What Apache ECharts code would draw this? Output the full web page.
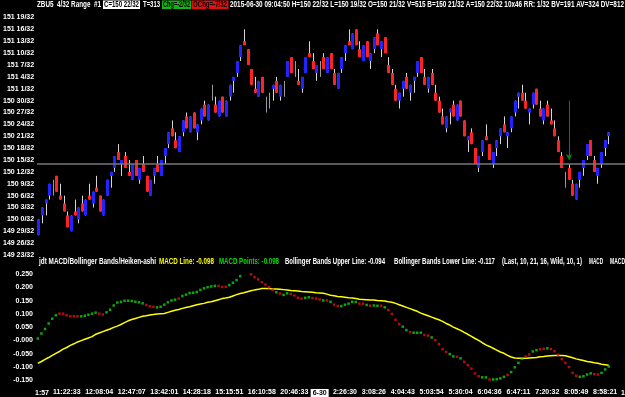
<!DOCTYPE html>
<html><head><meta charset="utf-8">
<script src="https://cdn.jsdelivr.net/npm/echarts/dist/echarts.min.js"></script>
<style>html,body{margin:0;padding:0;background:#000;}#c{width:625px;height:397px;}</style>
</head><body><div id="c"></div>
<script>
// ---- price bars (range bars, in 32nds above 150 0/32) ----
const opens = [-4,1,4,6,8,11,6,4,1,-3, 2,0,4,1,6,4,8,6,1,6, 11,13,17,14,16,12,10,15,10,14, 11,6,11,14,11,16,19,23,20,17,
 22,26,22,27,22,25,29,25,31,29, 26,31,26,31,35,37,41,45,43,38, 33,31,36,29,30,33,35,31,33,36, 41,38,35,33,37,42,40,37,38,41,
 37,42,37,33,38,42,45,43,48,43, 40,45,40,43,47,43,46,39,37,33, 30,33,36,32,35,37,41,36,33,37, 32,30,26,23,27,29,25,30,25,20,
 22,18,13,17,21,19,14,18,21,24, 21,23,27,31,32,30,27,29,33,28, 25,29,25,23,20,16,10,13,9,5, 10,13,16,20,15,11,14,18,21];
const highs = [0,3,5,9,10,11,9,6,2,1, 5,3,6,5,9,7,11,6,5,10, 12,16,19,15,17,15,14,15,13,16, 11,10,13,16,15,18,22,25,22,21,
 25,27,26,27,24,28,30,29,34,31, 30,31,30,34,36,40,44,48,43,38, 36,35,36,31,32,34,36,34,35,40, 41,40,38,36,41,45,42,39,40,42,
 41,42,38,37,41,44,48,47,48,45, 44,45,42,46,48,45,46,41,38,34, 32,35,37,34,36,40,41,38,36,38, 34,31,28,26,28,30,29,30,25,21,
 23,18,16,20,24,19,17,20,23,26, 22,26,30,32,34,32,28,32,33,30, 28,30,28,25,21,17,12,14,10,9, 12,15,19,20,16,13,17,20,22];
const lows = [-4,-1,1,5,6,7,5,2,-2,-3, 1,-1,2,1,5,3,7,2,1,6, 8,12,15,11,13,11,10,11,9,12, 7,6,9,12,11,14,18,21,18,17,
 21,23,22,23,20,24,26,25,30,27, 26,27,26,30,32,36,40,44,39,34, 32,31,32,27,28,30,32,30,31,36, 37,36,34,32,37,41,38,35,36,38,
 37,38,34,33,37,40,44,43,44,41, 40,41,38,42,44,41,42,37,34,30, 28,31,33,30,32,36,37,34,32,34, 30,27,24,22,24,26,25,26,21,17,
 19,14,12,16,20,15,13,16,19,22, 18,22,26,28,30,28,24,28,29,26, 24,26,24,21,17,13,8,10,6,5, 8,11,15,16,12,9,13,16,19];
const closes = [0,3,5,9,8,7,5,2,-2,1, 1,3,2,5,5,7,7,2,5,10, 12,16,15,15,13,11,14,11,13,12, 7,10,13,12,15,18,22,21,18,21,
 25,23,26,23,24,28,26,29,31,27, 30,27,30,34,36,40,44,44,39,34, 32,35,32,29,30,34,32,34,33,40, 37,38,34,36,41,41,38,39,38,38,
 41,38,34,37,41,44,44,47,44,41, 44,41,42,46,44,45,42,37,34,30, 32,35,33,34,36,40,37,34,36,34, 30,27,24,26,28,26,29,26,21,21,
 19,14,16,20,20,15,17,20,23,22, 22,26,30,32,30,28,28,32,29,26, 28,26,24,21,17,13,10,10,6,9, 12,15,19,16,12,13,17,20,22];
const refLevel = 14;            // 150 14/32 reference line
const arrowBar = 147, arrowTop = 30, arrowTip = 15;

// ---- indicator panel ----
const macdPoints = [0.007,0.026,0.043,0.064,0.082,0.095,0.101,0.101,0.095,0.091,
 0.091,0.091,0.091,0.093,0.097,0.101,0.105,0.101,0.098,0.106,
 0.116,0.132,0.143,0.146,0.150,0.150,0.149,0.146,0.144,0.140,
 0.134,0.129,0.127,0.125,0.127,0.135,0.144,0.151,0.154,0.158,
 0.168,0.173,0.179,0.180,0.183,0.191,0.197,0.201,0.204,0.206,
 0.206,0.202,0.203,0.209,0.218,0.228,0.243,0.256,0.259,0.250,
 0.239,0.231,0.220,0.211,0.201,0.191,0.182,0.177,0.172,0.178,
 0.175,0.170,0.161,0.158,0.161,0.163,0.160,0.158,0.155,0.151,
 0.151,0.146,0.135,0.130,0.130,0.135,0.139,0.146,0.145,0.139,
 0.139,0.134,0.131,0.132,0.131,0.131,0.125,0.115,0.100,0.078,
 0.062,0.052,0.039,0.031,0.029,0.029,0.029,0.020,0.018,0.011,
 0.001,-0.014,-0.033,-0.044,-0.052,-0.061,-0.062,-0.068,-0.081,-0.094,
 -0.107,-0.125,-0.136,-0.140,-0.140,-0.148,-0.148,-0.147,-0.144,-0.138,
 -0.131,-0.120,-0.102,-0.085,-0.070,-0.061,-0.053,-0.042,-0.037,-0.034,
 -0.032,-0.030,-0.033,-0.041,-0.054,-0.071,-0.085,-0.101,-0.123,-0.134,
 -0.138,-0.136,-0.129,-0.125,-0.128,-0.129,-0.123,-0.110,-0.099];
const macdColors = ('gggggg'+'rrrrrr'+'ggggg'+'rr'+'ggggggggggg'+'rrr'+'gggggg'+'r'+'gggggggggg'+'rrr'+'ggggg'+'rrrrrrrr'+'g'+'r'+'gg'+'rrrr'+'gg'+'rrr'+'g'+'r'
 +'g'+'rr'+'ggggg'+'rr'+'g'+'r'+'gg'+'r'+'g'+'rrrr'+'gg'+'r'+'ggg'+'rr'+'g'+'rrrr'+'gg'+'r'+'g'+'rrrrr'+'gg'+'r'+'gggg'+'r'+'gggg'+'rr'+'gg'+'rr'+'g'+'rrrrrrrr'+'gggg'+'rr'+'ggg');
const bandLine = [-0.087,-0.080,-0.072,-0.065,-0.057,-0.049,-0.042,-0.033,-0.027,-0.019,
 -0.013,-0.006,-0.001,0.004,0.009,0.014,0.023,0.028,0.033,0.038,
 0.043,0.049,0.054,0.060,0.067,0.074,0.079,0.083,0.087,0.091,
 0.093,0.096,0.098,0.100,0.101,0.102,0.106,0.110,0.114,0.117,
 0.121,0.124,0.127,0.131,0.135,0.138,0.140,0.144,0.146,0.150,
 0.154,0.158,0.160,0.163,0.168,0.173,0.177,0.180,0.184,0.188,
 0.191,0.193,0.196,0.196,0.196,0.194,0.194,0.193,0.192,0.191,
 0.189,0.188,0.187,0.185,0.184,0.183,0.182,0.180,0.179,0.178,
 0.175,0.171,0.169,0.166,0.165,0.163,0.161,0.160,0.158,0.156,
 0.155,0.154,0.153,0.153,0.151,0.150,0.149,0.146,0.144,0.140,
 0.135,0.130,0.125,0.120,0.115,0.110,0.103,0.098,0.093,0.088,
 0.083,0.078,0.072,0.064,0.058,0.050,0.044,0.038,0.030,0.023,
 0.015,0.007,0.000,-0.009,-0.017,-0.023,-0.030,-0.037,-0.044,-0.049,
 -0.057,-0.063,-0.067,-0.068,-0.068,-0.068,-0.067,-0.066,-0.065,-0.062,
 -0.061,-0.059,-0.058,-0.057,-0.057,-0.057,-0.058,-0.062,-0.066,-0.070,
 -0.073,-0.076,-0.080,-0.082,-0.085,-0.087,-0.090,-0.092,-0.094];

// ---- x axis ----
const slotCount = 163;
const categories = Array.from({length: slotCount}, (_, i) => String(i));
const xTickIdx = [8,17,26,35,44,53,62,71,78,85,93,101,109,117,125,133,141,149,157];
const xTickText = ['11:22:33','12:08:04','12:47:07','13:42:01','14:28:18','15:15:51','16:10:58','20:46:33','6-30',
 '2:26:30','3:08:26','4:04:43','5:03:54','5:30:04','6:04:36','6:47:11','7:20:32','8:05:49','8:58:21'];
const dateTick = '6-30';

// ---- helpers ----
const mctx = document.createElement('canvas').getContext('2d');
function fontAvail(f) {
  const s = 'abcdefghijklmnop0123456789';
  mctx.font = '16px monospace'; const a = mctx.measureText(s).width;
  mctx.font = '16px "' + f + '", monospace'; return Math.abs(mctx.measureText(s).width - a) > 0.5;
}
const narrow = fontAvail('Liberation Sans Narrow');
const AX_FAMILY = narrow ? 'Liberation Sans Narrow' : 'Liberation Sans';
const AX_SIZE = narrow ? 8 : 7;
const HDR_FONT = 'bold 9px "Liberation Sans"';
function fitText(x, y, w, text, fill) {
  mctx.font = HDR_FONT;
  const s = w / mctx.measureText(text).width;
  return {type: 'text', x: x, y: y, scaleX: s, z: 20, silent: true,
    style: {text: text, font: HDR_FONT, fill: fill, textAlign: 'left', textVerticalAlign: 'middle', align: 'left', verticalAlign: 'middle'}};
}
function box(x, y, w, h, fill) { return {type: 'rect', x: x, y: y, z: 15, silent: true, shape: {width: w, height: h}, style: {fill: fill}}; }
function priceLabel(u) {
  const whole = 150 + Math.floor(u / 32);
  const frac = u - Math.floor(u / 32) * 32;
  return whole + ' ' + frac + '/32';
}

const candleData = opens.map((o, i) => [i, o, highs[i], lows[i], closes[i]]);

const chart = echarts.init(document.getElementById('c'), null, {renderer: 'canvas'});
const axLabel = {color: '#ffffff', fontWeight: 'bold', fontFamily: AX_FAMILY, fontSize: AX_SIZE};

chart.setOption({
  backgroundColor: '#000000',
  animation: false,
  grid: [
    {left: 36, top: 17.5, width: 590, height: 237.5},
    {left: 36, top: 274.3, width: 590, height: 105.7}
  ],
  xAxis: [
    {type: 'category', gridIndex: 0, data: categories, boundaryGap: true,
     axisLine: {show: false}, axisTick: {show: false}, axisLabel: {show: false}, splitLine: {show: false}},
    {type: 'category', gridIndex: 1, data: categories, boundaryGap: true,
     axisLine: {show: false}, axisTick: {show: false}, splitLine: {show: false},
     axisLabel: Object.assign({}, axLabel, {
       margin: 9, hideOverlap: false,
       interval: (i) => xTickIdx.indexOf(i) >= 0,
       formatter: (v, i) => { const k = xTickIdx.indexOf(Number(v)); if (k < 0) return ''; const t = xTickText[k]; return t === dateTick ? '{d|' + t + '}' : t; },
       rich: {d: {backgroundColor: '#ffffff', color: '#000000', fontWeight: 'bold', fontFamily: AX_FAMILY, fontSize: AX_SIZE, padding: [1, 2, 0, 2]}}
     })}
  ],
  yAxis: [
    {type: 'value', gridIndex: 0, min: -9, max: 51, interval: 3,
     axisLine: {show: false}, axisTick: {show: false}, splitLine: {show: false},
     axisLabel: Object.assign({}, axLabel, {margin: 3, formatter: priceLabel})},
    {type: 'value', gridIndex: 1, min: -0.15, max: 0.25, interval: 0.05,
     axisLine: {show: false}, axisTick: {show: false}, splitLine: {show: false},
     axisLabel: Object.assign({}, axLabel, {margin: 3, formatter: (v) => Math.abs(v) < 1e-6 ? '-0.000' : v.toFixed(3)})}
  ],
  series: [
    {type: 'custom', xAxisIndex: 0, yAxisIndex: 0, data: candleData, encode: {x: 0, y: [1, 2, 3, 4]},
     renderItem: function (params, api) {
       const i = api.value(0), o = api.value(1), h = api.value(2), l = api.value(3), c = api.value(4);
       const pH = api.coord([i, h]), pL = api.coord([i, l]), pO = api.coord([i, o]), pC = api.coord([i, c]);
       const x = Math.floor(pH[0]);
       const kids = [];
       if (o === c) {
         kids.push({type: 'line', shape: {x1: x + 0.5, y1: pH[1], x2: x + 0.5, y2: pL[1]}, style: {stroke: '#9a9a9a', lineWidth: 1}});
       } else {
         kids.push({type: 'line', shape: {x1: x + 0.5, y1: pH[1], x2: x + 0.5, y2: pL[1]}, style: {stroke: '#d6d6d6', lineWidth: 1}});
         const top = Math.min(pO[1], pC[1]), bot = Math.max(pO[1], pC[1]);
         kids.push({type: 'rect', shape: {x: x - 1, y: top, width: 3, height: bot - top},
           style: {fill: c > o ? '#2323ff' : '#ff2222'}});
       }
       return {type: 'group', children: kids};
     },
     markLine: {silent: true, symbol: 'none', animation: false, label: {show: false},
       data: [
         {yAxis: refLevel, lineStyle: {color: '#777777', width: 1.5, type: 'solid'}},
         [{coord: [String(arrowBar), arrowTop], symbol: 'none', lineStyle: {color: '#008a00', width: 1, type: 'solid'}},
          {coord: [String(arrowBar), arrowTip], symbol: 'arrow', symbolSize: [5, 6], lineStyle: {color: '#008a00', width: 1, type: 'solid'}}]
       ]}
    },
    {type: 'line', xAxisIndex: 1, yAxisIndex: 1, data: bandLine, showSymbol: false, silent: true,
     lineStyle: {color: '#ffff00', width: 1.5}, z: 3},
    {type: 'scatter', xAxisIndex: 1, yAxisIndex: 1, symbol: 'rect', symbolSize: 2.5, silent: true, z: 4,
     data: macdPoints.map((v, i) => ({value: [i, v], itemStyle: {color: macdColors[i] === 'r' ? '#e01010' : '#10d010'}}))}
  ],
  graphic: [
    fitText(37, 4.5, 64, 'ZBU5  4/32 Range  #1', '#ffffff'),
    box(103, 0.5, 37, 8.5, '#ffffff'),
    fitText(104, 4.5, 35, 'C=150 22/32', '#000000'),
    fitText(143, 4.5, 17, 'T=313', '#ffffff'),
    box(162, 0.5, 29, 8.5, '#14b414'),
    fitText(163, 4.5, 27, 'Chg=-2/32', '#000000'),
    box(191.5, 0.5, 37, 8.5, '#e01010'),
    fitText(193, 4.5, 34, 'OChg=-7/32', '#000000'),
    fitText(230, 4.5, 394, '2015-06-30 09:04:50 H=150 22/32 L=150 19/32 O=150 21/32 V=515 B=150 21/32 A=150 22/32 10x46 RR: 1/32 BV=191 AV=324 DV=812', '#ffffff'),
    fitText(39, 262, 117, 'jdt MACD/Bollinger Bands/Heiken-ashi', '#ffffff'),
    fitText(159, 262, 55, 'MACD Line: -0.098', '#ffff00'),
    fitText(219, 262, 60, 'MACD Points: -0.098', '#00e000'),
    fitText(285, 262, 100, 'Bollinger Bands Upper Line: -0.094', '#ffffff'),
    fitText(394, 262, 101, 'Bollinger Bands Lower Line: -0.117', '#ffffff'),
    fitText(502, 262, 80, '(Last, 10, 21, 16, Wild, 10, 1)', '#ffffff'),
    fitText(589, 262, 14, 'MACD', '#ffffff'),
    fitText(610, 262, 15, 'MACD', '#ffffff'),
    {type: 'text', x: 35, y: 393, silent: true, style: {text: '1:57', fill: '#ffffff', fontWeight: 'bold', fontFamily: AX_FAMILY, fontSize: AX_SIZE, textVerticalAlign: 'middle', verticalAlign: 'middle'}},
    {type: 'text', x: 621, y: 393, silent: true, style: {text: '1', fill: '#ffffff', fontWeight: 'bold', fontFamily: AX_FAMILY, fontSize: AX_SIZE, textVerticalAlign: 'middle', verticalAlign: 'middle'}}
  ]
});
</script>
</body></html>
